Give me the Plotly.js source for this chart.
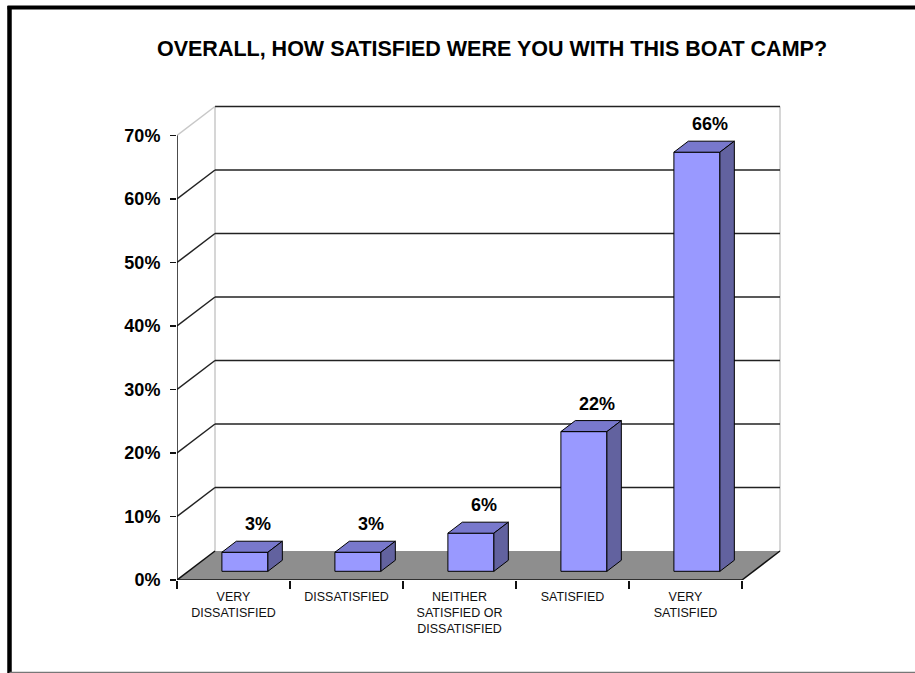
<!DOCTYPE html>
<html>
<head>
<meta charset="utf-8">
<script src="https://cdn.plot.ly/plotly-3.0.1.min.js"></script>
<style>html,body{margin:0;padding:0;background:#fff;}#chart{width:915px;height:673px;}</style>
</head>
<body>
<div id="chart"></div>
<script>
// ---- data ----
const categories = ["VERY<br>DISSATISFIED", "DISSATISFIED", "NEITHER<br>SATISFIED OR<br>DISSATISFIED", "SATISFIED", "VERY<br>SATISFIED"];
const values = [3, 3, 6, 22, 66];
const yTickValues = [0, 10, 20, 30, 40, 50, 60, 70];
const yTickLabels = ["0%", "10%", "20%", "30%", "40%", "50%", "60%", "70%"];
const chartTitle = "OVERALL, HOW SATISFIED WERE YOU WITH THIS BOAT CAMP?";

// ---- geometry (pixels) ----
const W = 915, H = 673;
const L = 177, R = 125, T = 100, B = 93;
const plotW = W - L - R, plotH = H - T - B;
const pxPerCat = 113, pxPerPct = 6.35;
const depthPx = [38, 29];
const dX = depthPx[0] / pxPerCat, dY = depthPx[1] / pxPerPct;
const barFront = 0.3, barBack = 0.68;
const barW = 46 / pxPerCat;
const yMax = yTickValues[yTickValues.length - 1];
const nCat = categories.length;
const x0 = -0.5, x1 = nCat - 0.5;

const baseY = barFront * dY;
const barShift = barFront * dX;
const bdx = (barBack - barFront) * dX, bdy = (barBack - barFront) * dY;

const shapes = [];
const pt = (x, y) => x + "," + y;
// back wall
shapes.push({type: "rect", xref: "x", yref: "y", layer: "below", x0: x0 + dX, x1: x1 + dX, y0: dY, y1: yMax + dY, fillcolor: "#ffffff", line: {width: 0}});
// back wall side edges
shapes.push({type: "line", xref: "x", yref: "y", layer: "below", x0: x0 + dX, x1: x0 + dX, y0: dY, y1: yMax + dY, line: {color: "#c8c8c8", width: 1.5}});
shapes.push({type: "line", xref: "x", yref: "y", layer: "below", x0: x1 + dX, x1: x1 + dX, y0: dY, y1: yMax + dY, line: {color: "#c8c8c8", width: 1.5}});
// gridlines + left wall diagonals
yTickValues.forEach(v => {
  if (v > 0) {
    shapes.push({type: "line", xref: "x", yref: "y", layer: "below", x0: x0 + dX, x1: x1 + dX, y0: v + dY, y1: v + dY, line: {color: "#222", width: 1.5}});
    shapes.push({type: "line", xref: "x", yref: "y", layer: "below", x0: x0, x1: x0 + dX, y0: v, y1: v + dY, line: {color: v === yMax ? "#c8c8c8" : "#222", width: 1.5}});
  }
});
// floor
shapes.push({type: "path", xref: "x", yref: "y", layer: "below",
  path: "M" + pt(x0, 0) + " L" + pt(x1, 0) + " L" + pt(x1 + dX, dY) + " L" + pt(x0 + dX, dY) + " Z",
  fillcolor: "#8e8e8e", line: {width: 0}});
shapes.push({type: "line", xref: "x", yref: "y", layer: "below", x0: x0, x1: x0 + dX, y0: 0, y1: dY, line: {color: "#111", width: 1.5}});
shapes.push({type: "line", xref: "x", yref: "y", layer: "below", x0: x1, x1: x1 + dX, y0: 0, y1: dY, line: {color: "#111", width: 1.5}});
shapes.push({type: "line", xref: "x", yref: "y", layer: "above", x0: x0, x1: x1, y0: 0, y1: 0, line: {color: "#111", width: 1.5}});
// y axis line
shapes.push({type: "line", xref: "x", yref: "y", layer: "above", x0: x0, x1: x0, y0: 0, y1: yMax, line: {color: "#111", width: 1.5}});
// bar top & side faces
values.forEach((v, i) => {
  const bl = i + barShift - barW / 2, br = i + barShift + barW / 2;
  const top = baseY + v;
  shapes.push({type: "path", xref: "x", yref: "y", layer: "above",
    path: "M" + pt(bl, top) + " L" + pt(br, top) + " L" + pt(br + bdx, top + bdy) + " L" + pt(bl + bdx, top + bdy) + " Z",
    fillcolor: "#7878cc", line: {color: "#000", width: 1}});
  shapes.push({type: "path", xref: "x", yref: "y", layer: "above",
    path: "M" + pt(br, baseY) + " L" + pt(br, top) + " L" + pt(br + bdx, top + bdy) + " L" + pt(br + bdx, baseY + bdy) + " Z",
    fillcolor: "#62629f", line: {color: "#000", width: 1}});
});
// frame (pixel -> paper)
const px2paperX = p => (p - L) / plotW;
const px2paperY = p => (H - B - p) / plotH;
shapes.push({type: "line", xref: "paper", yref: "paper", x0: px2paperX(7.5), x1: px2paperX(920), y0: px2paperY(7.5), y1: px2paperY(7.5), line: {color: "#000", width: 4}});
shapes.push({type: "line", xref: "paper", yref: "paper", x0: px2paperX(9.5), x1: px2paperX(9.5), y0: px2paperY(6), y1: px2paperY(673), line: {color: "#000", width: 4.5}});
shapes.push({type: "line", xref: "paper", yref: "paper", x0: px2paperX(9.5), x1: px2paperX(920), y0: px2paperY(672.5), y1: px2paperY(672.5), line: {color: "#777", width: 1.5}});

const annotations = values.map((v, i) => ({
  x: i + barShift, y: baseY + v, xref: "x", yref: "y",
  text: v + "%", showarrow: false, xshift: 13, yshift: 28, yanchor: "middle",
  font: {family: "Liberation Sans, Arial, sans-serif", size: 18, color: "#000", weight: "bold"}
}));

const trace = {
  type: "bar",
  x: values.map((v, i) => i),
  y: values,
  base: baseY,
  width: barW,
  offset: barShift - barW / 2,
  marker: {color: "#9999ff", line: {color: "#000", width: 1}},
  hoverinfo: "skip"
};

const layout = {
  width: W, height: H,
  margin: {l: L, r: R, t: T, b: B, pad: 0},
  paper_bgcolor: "#ffffff", plot_bgcolor: "rgba(0,0,0,0)",
  showlegend: false,
  title: {text: "<b>" + chartTitle + "</b>", x: 492 / W, xanchor: "center", y: 1 - 48 / H, yanchor: "middle", yref: "container",
    font: {family: "Liberation Sans, Arial, sans-serif", size: 21.5, color: "#000"}},
  xaxis: {range: [x0, x0 + plotW / pxPerCat], tickmode: "array", tickvals: categories.map((c, i) => i), ticktext: categories,
    ticks: "", showgrid: false, zeroline: false, showline: false, ticklabelstandoff: 7,
    minor: {tickmode: "array", tickvals: categories.map((c, i) => i - 0.5).concat([x1]), ticks: "outside", ticklen: 8, tickcolor: "#111", tickwidth: 1.5, showgrid: false},
    tickfont: {family: "Liberation Sans, Arial, sans-serif", size: 12.5, color: "#111"}, fixedrange: true},
  yaxis: {range: [0, plotH / pxPerPct], tickmode: "array", tickvals: yTickValues, ticktext: yTickLabels,
    ticks: "outside", ticklen: 6, tickcolor: "#111", tickwidth: 1.5, showgrid: false, zeroline: false, showline: false,
    ticklabelstandoff: 6,
    tickfont: {family: "Liberation Sans, Arial, sans-serif", size: 18, color: "#000", weight: "bold"}, fixedrange: true},
  shapes: shapes,
  annotations: annotations
};

Plotly.newPlot("chart", [trace], layout, {displayModeBar: false, staticPlot: true});
</script>
</body>
</html>
